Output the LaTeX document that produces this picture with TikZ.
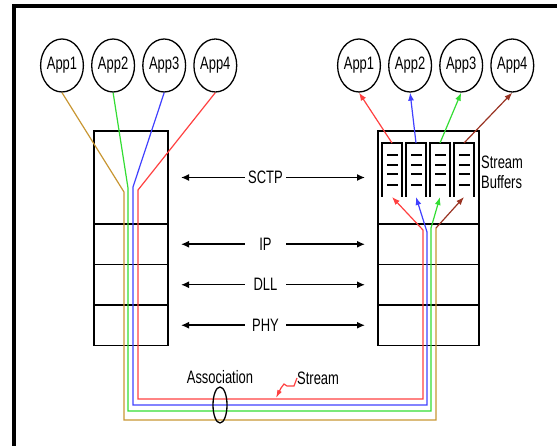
\documentclass[tikz,border=0pt]{standalone}
\usepackage{fontspec}
\setmainfont{Liberation Sans}[FakeStretch=0.72]
\usepackage{tikz}
\usetikzlibrary{positioning,shapes.geometric,arrows.meta}
\definecolor{strorange}{HTML}{C89632}
\definecolor{strgreen}{HTML}{33DD33}
\definecolor{strblue}{HTML}{4040FF}
\definecolor{strred}{HTML}{FF4040}
\definecolor{strbrown}{HTML}{993322}

\begin{document}
\begin{tikzpicture}[x=1pt, y=-1pt, font=\fontsize{18}{20}\selectfont, node distance=7pt,
  app/.style={draw, ellipse, line width=1.3pt, minimum width=40pt, minimum height=53pt, inner sep=0pt},
  layer/.style={draw, line width=1.6pt, outer sep=0pt, minimum width=74pt, minimum height=40.5pt},
  lbl/.style={minimum width=41pt, inner sep=0pt},
  arr/.style={-{Latex[length=8pt,width=7pt]}, line width=1.5pt, shorten >=13pt},
  strm/.style={line width=1.2pt},
  tip/.style={-{Latex[length=8pt,width=6pt]}, line width=1.2pt},
  bufbox/.style={minimum width=20pt, minimum height=54pt, inner sep=0pt, outer sep=0pt},
  bar/.style={line width=1.8pt}
]
\useasboundingbox (0,0) rectangle (557,446);
\draw[line width=4pt] (14,446) -- (14,6.5) -- (557,6.5);

% applications
\node[app] (lapp1) at (62,65.5) {App1};
\node[app, right=of lapp1] (lapp2) {App2};
\node[app, right=of lapp2] (lapp3) {App3};
\node[app, right=of lapp3] (lapp4) {App4};
\node[app] (rapp1) at (359,65.5) {App1};
\node[app, right=of rapp1] (rapp2) {App2};
\node[app, right=of rapp2] (rapp3) {App3};
\node[app, right=of rapp3] (rapp4) {App4};

% protocol stacks
\node[layer, minimum height=93pt] (lsctp) at (131,177.5) {};
\node[layer, below=0pt of lsctp] (lip) {};
\node[layer, below=0pt of lip] (ldll) {};
\node[layer, below=0pt of ldll] (lphy) {};
\node[layer, minimum width=101pt, minimum height=93pt, right=210pt of lsctp] (rsctp) {};
\node[layer, minimum width=101pt, below=0pt of rsctp] (rip) {};
\node[layer, minimum width=101pt, below=0pt of rip] (rdll) {};
\node[layer, minimum width=101pt, below=0pt of rdll] (rphy) {};

\node[lbl] (sctp) at (265.5,177.5) {SCTP};
\node[lbl] (ip) at (sctp |- lip) {IP};
\node[lbl] (dll) at (sctp |- ldll) {DLL};
\node[lbl] (phy) at (sctp |- lphy) {PHY};
\draw[arr] (sctp) -- (lsctp);
\draw[arr] (sctp) -- (rsctp);
\draw[arr] (ip) -- (lip);
\draw[arr] (ip) -- (rip);
\draw[arr] (dll) -- (ldll);
\draw[arr] (dll) -- (rdll);
\draw[arr] (phy) -- (lphy);
\draw[arr] (phy) -- (rphy);

% stream buffers
\node[bufbox] (buf1) at (392,170) {};
\node[bufbox, right=4pt of buf1] (buf2) {};
\node[bufbox, right=4pt of buf2] (buf3) {};
\node[bufbox, right=4pt of buf3] (buf4) {};
\foreach \b in {buf1,buf2,buf3,buf4}{
  \draw[line width=1.5pt] (\b.south west) -- (\b.north west) -- (\b.north east) -- (\b.south east);
  \foreach \dy in {12,22,31,42}
    \draw[bar] ([xshift=5pt, yshift=-\dy]\b.north west) -- ([xshift=-4pt, yshift=-\dy]\b.north east);
}
\node[anchor=west, align=left, inner sep=0pt] (buflbl) at (481,172) {Stream\\Buffers};

% streams of the association
\coordinate (l1) at (124,192);
\coordinate (l2) at (128,188);
\coordinate (l3) at (133,187);
\coordinate (l4) at (138,190);
\coordinate (r1) at (436,228);
\coordinate (r2) at (431,228);
\coordinate (r3) at (427,232);
\coordinate (r4) at (423,230);
\coordinate (b1) at (0,420);
\coordinate (b2) at (0,411);
\coordinate (b3) at (0,405);
\coordinate (b4) at (0,399);
\draw[strm, strorange] (lapp1.south) -- (l1) -- (l1 |- b1) -| (r1);
\draw[strm, strgreen] (lapp2.south) -- (l2) -- (l2 |- b2) -| (r2);
\draw[strm, strblue] (lapp3.south) -- (l3) -- (l3 |- b3) -| (r3);
\draw[strm, strred] (lapp4.south) -- (l4) -- (l4 |- b4) -| (r4);
\draw[tip, strbrown] (r1) -- (buf4.south);
\draw[tip, strgreen] (r2) -- (buf3.south);
\draw[tip, strblue] (r3) -- (buf2.south);
\draw[tip, strred] (r4) -- (buf1.south);
\draw[tip, strbrown] (buf4.north) -- (rapp4.south);
\draw[tip, strgreen] (buf3.north) -- (rapp3.south);
\draw[tip, strblue] (buf2.north) -- (rapp2.south);
\draw[tip, strred] (buf1.north) -- (rapp1.south);

% labels
\node (assoc) at (220,377) {Association};
\node[draw, ellipse, line width=1.3pt, minimum width=14pt, minimum height=36pt, inner sep=0pt] (ring) at (220,405) {};
\node[anchor=west, inner sep=0pt] (stream) at (297,378) {Stream};
\coordinate (sp) at (276,398);
\draw[strred, line width=1.2pt, -{Latex[length=8pt,width=5pt]}] (stream.west) -- ++(-3,8) -- ++(-7,0) -- ++(-3,-2) -- ++(-3,4) -- (sp);
\end{tikzpicture}
\end{document}
